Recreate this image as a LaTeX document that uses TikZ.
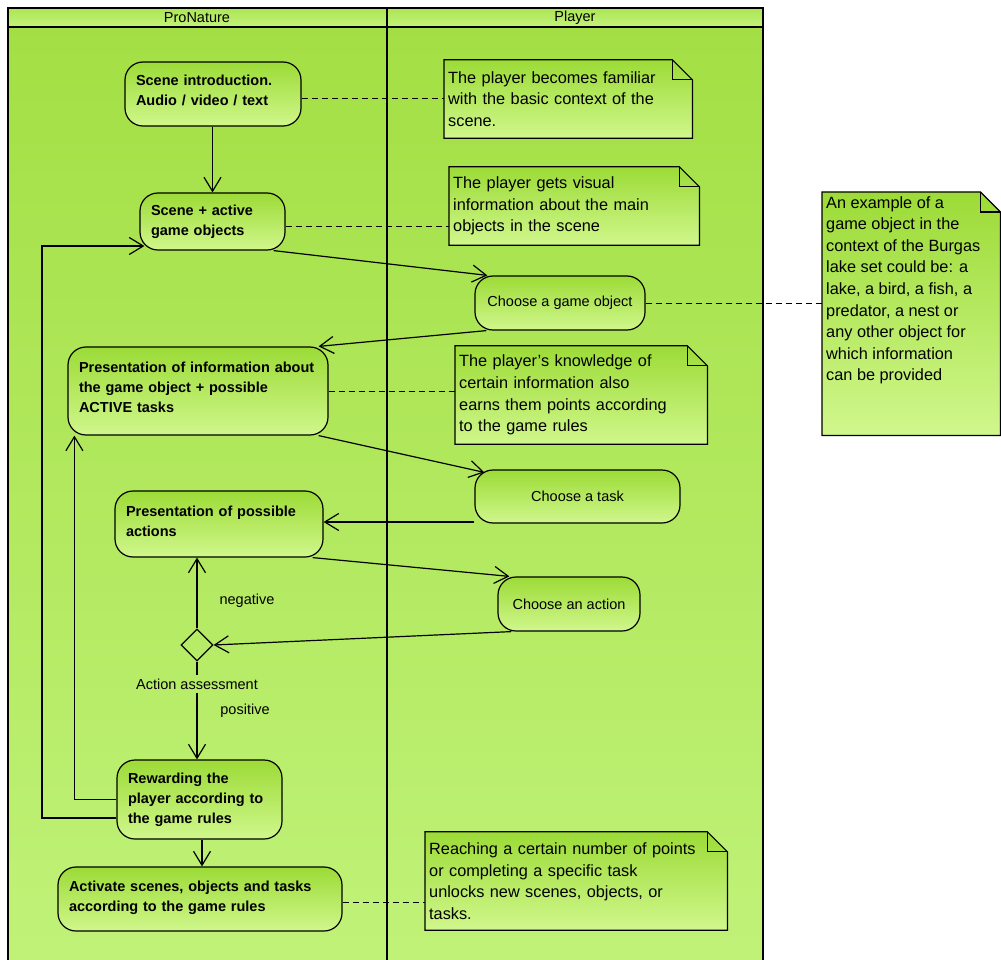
\documentclass[tikz,border=0pt]{standalone}
\usepackage{fontspec}
\setmainfont{Liberation Sans}
\usetikzlibrary{arrows.meta,shapes.geometric,backgrounds,calc}
\definecolor{lanetop}{RGB}{163,223,68}
\definecolor{lanebot}{RGB}{192,242,120}
\definecolor{headtop}{RGB}{172,230,85}
\definecolor{headbot}{RGB}{196,243,122}
\definecolor{nodetop}{RGB}{156,219,55}
\definecolor{nodebot}{RGB}{208,247,140}
\newcommand{\lift}[1]{\\[-#1]\mbox{}}
\begin{document}
\begin{tikzpicture}[x=1pt,y=-1pt,
  act/.style={draw=black, line width=1.2pt, rounded corners=18pt, top color=nodetop, bottom color=nodebot,
    font=\fontsize{14.5}{20}\selectfont\bfseries, align=left, inner xsep=11pt, inner ysep=0pt},
  choice/.style={draw=black, line width=1.2pt, rounded corners=18pt, top color=nodetop, bottom color=nodebot,
    font=\fontsize{14.5}{20}\selectfont, align=center, inner sep=0pt},
  notetext/.style={font=\fontsize{16.3}{21.6}\selectfont, align=left, inner xsep=4pt, inner ysep=0pt, anchor=west},
  notefill/.style={top color=nodetop, bottom color=nodebot, draw=black, line width=1.2pt},
  lbl/.style={font=\fontsize{14.5}{18}\selectfont, inner sep=3pt},
  headtxt/.style={font=\fontsize{14.5}{18}\selectfont, inner sep=0pt},
  arr/.style={line width=1.2pt, -{Straight Barb[length=14pt,width=17pt,line width=1.2pt]}},
  link/.style={line width=1pt, dash pattern=on 6pt off 4pt},
  frame/.style={line width=2pt, black},
]
\useasboundingbox (0,0) rectangle (1001,960);

% lanes
\begin{scope}[on background layer]
  \fill[top color=lanetop, bottom color=lanebot] (8,27) rectangle (763,960);
  \fill[top color=headtop, bottom color=headbot] (8,8) rectangle (763,27);
  \draw[frame] (8,962) -- (8,8) -- (763,8) -- (763,962);
  \draw[frame] (8,27) -- (763,27);
  \draw[frame] (387,8) -- (387,962);
\end{scope}
\node[headtxt] (h1) at (197,18) {ProNature};
\node[headtxt] (h2) at (575,18) {Player};

% activities
\node[act, minimum height=64pt, text width=154pt] (n1) at (213,94) {Scene introduction.\\Audio / video / text\lift{12pt}};
\node[act, minimum height=57pt, text width=123pt] (n2) at (212.5,221.5) {Scene + active\\game objects};
\node[choice, minimum width=170pt, minimum height=54pt] (c1) at (560,303) {Choose a game object};
\node[act, minimum height=88pt, text width=238pt] (n4) at (198,391) {Presentation of information about\\the game object + possible\\ACTIVE tasks\lift{12pt}};
\node[choice, minimum width=205pt, minimum height=53pt] (c2) at (577.5,496.5) {Choose a task};
\node[act, minimum height=66pt, text width=186pt] (n6) at (219,524) {Presentation of possible\\actions\lift{14pt}};
\node[choice, minimum width=142pt, minimum height=54pt] (c3) at (569,604) {Choose an action};
\node[diamond, draw=black, line width=1.2pt, minimum width=32pt, minimum height=32pt, inner sep=0pt] (d) at (197,645) {};
\node[lbl] (al) at (197,684) {Action assessment};
\node[act, minimum height=79pt, text width=143pt] (n9) at (199.5,799.5) {Rewarding the\\player according to\\the game rules};
\node[act, minimum height=64pt, text width=262pt] (n10) at (200,899) {Activate scenes, objects and tasks\\according to the game rules\lift{14pt}};

% notes
\node[notetext, text width=240pt, minimum height=78pt] (N1) at (444,99) {The player becomes familiar\\with the basic context of the\\scene.};
\node[notetext, text width=242pt, minimum height=78pt] (N2) at (449,206) {The player gets visual\\information about the main\\objects in the scene};
\node[notetext, anchor=north west] (N3) at (822,192) {\parbox[t][243pt][t]{170pt}{\vspace*{4pt}An example of a\\game object in the\\context of the Burgas\\lake set could be: a\\lake, a bird, a fish, a\\predator, a nest or\\any other object for\\which information\\can be provided}};
\node[notetext, text width=244pt, minimum height=98pt] (N4) at (455,395) {The player's knowledge of\\certain information also\\earns them points according\\to the game rules};
\node[notetext, text width=294pt, minimum height=98pt] (N5) at (425,881) {Reaching a certain number of points\\or completing a specific task\\unlocks new scenes, objects, or\\tasks.};

\begin{scope}[on background layer]
  \foreach \n in {N1,N2,N3,N4,N5} {
    \path[notefill] (\n.north west) -- ([xshift=-20pt]\n.north east) -- ([yshift=-20pt]\n.north east)
      -- (\n.south east) -- (\n.south west) -- cycle;
    \draw[line width=1.2pt] ([xshift=-20pt]\n.north east) -- ([xshift=-20pt,yshift=-20pt]\n.north east)
      -- ([yshift=-20pt]\n.north east);
  }
\end{scope}

% control flow
\draw[arr] (n1.south -| n2.north) -- (n2.north);
\draw[arr] ([xshift=-12pt]n2.south east) -- ([xshift=13pt]c1.north west);
\draw[arr] ([xshift=12pt]c1.south west) -- ([xshift=-10pt]n4.north east);
\draw[arr] ([xshift=-10pt]n4.south east) -- ([xshift=10pt,yshift=-3pt]c2.north west);
\coordinate (t6) at ([yshift=2pt]n6.east);
\draw[arr] (c2.west |- t6) -- (t6);
\draw[arr] ([xshift=-11pt]n6.south east) -- ([xshift=12pt]c3.north west);
\draw[arr] ([xshift=14pt]c3.south west) -- (d.east);
\draw[arr] (d.north) -- (d.north |- n6.south);
\node[lbl] (neg) at (247,601) {negative};
\draw[line width=1.2pt] (d.south) -- (al.north);
\draw[arr] (al.south) -- (al.south |- n9.north);
\node[lbl] (pos) at (245,711) {positive};
\draw[arr] ([xshift=2.5pt]n9.south) -- ([xshift=2.5pt]n9.south |- n10.north);
\coordinate (l1) at (42,246);
\draw[arr] ([yshift=-18.5pt]n9.west) -| (l1) -- ([xshift=5pt]n2.west |- l1);
\draw[arr] (n9.west) -| ([xshift=7pt]n4.south west);

% note links
\draw[link] (n1.east |- N1.west) -- (N1.west);
\draw[link] ([yshift=-5.5pt]n2.east) -- ([yshift=-5.5pt]n2.east -| N2.west);
\draw[link] (c1.east) -- (c1.east -| N3.west);
\draw[link] (n4.east) -- (n4.east -| N4.west);
\draw[link] ([yshift=-3pt]n10.east) -- ([yshift=-3pt]n10.east -| N5.west);
\end{tikzpicture}
\end{document}
